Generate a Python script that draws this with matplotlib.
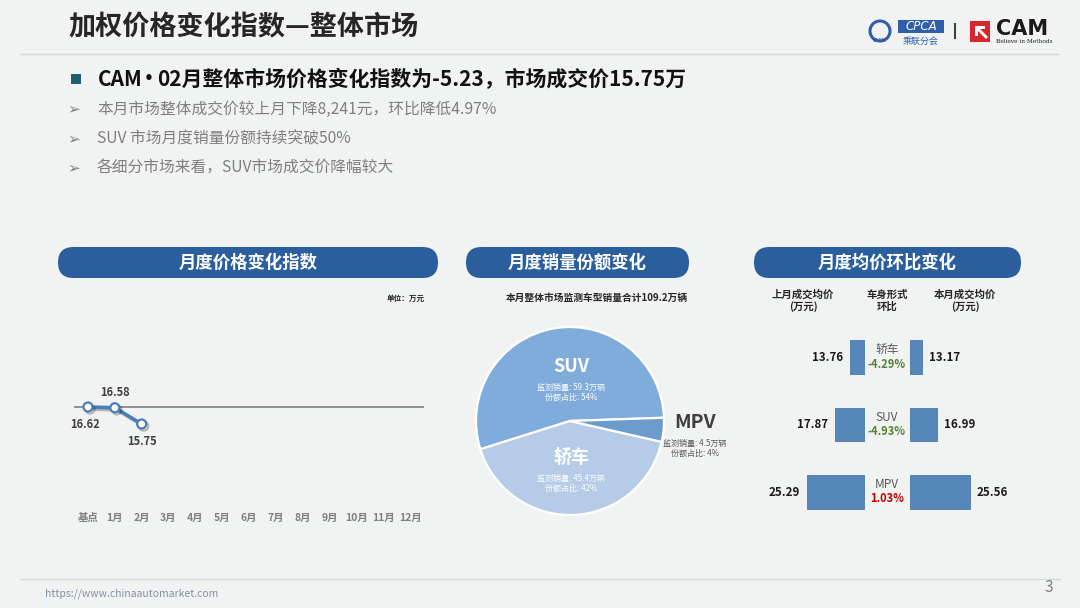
import matplotlib

matplotlib.use("Agg")
import matplotlib.pyplot as plt
import matplotlib.patheffects as pe
from matplotlib.patches import FancyBboxPatch, Rectangle, Polygon, Circle

plt.rcParams["font.family"] = ["Noto Sans CJK SC", "DejaVu Sans"]

# ---- data ----
months = ["基点", "1月", "2月", "3月", "4月", "5月", "6月",
          "7月", "8月", "9月", "10月", "11月", "12月"]
price_index = [16.62, 16.58, 15.75]

segments = ["SUV", "轿车", "MPV"]
segment_sales = [59.3, 45.4, 4.5]
segment_share = [54, 42, 4]
total_sales = 109.2

body_types = ["轿车", "SUV", "MPV"]
last_month_price = [13.76, 17.87, 25.29]
this_month_price = [13.17, 16.99, 25.56]
mom_change = [-4.29, -4.93, 1.03]

W, H = 1080, 608
BG = "#F1F2F2"
PILL = "#2A5E9D"
BAR = "#5587BA"

fig = plt.figure(figsize=(W / 100, H / 100), dpi=100, facecolor=BG)

bg = fig.add_axes([0, 0, 1, 1])
bg.set_xlim(0, W)
bg.set_ylim(H, 0)
bg.axis("off")
bg.set_zorder(3)
bg.patch.set_alpha(0)


def px_axes(x0, y0, x1, y1):
    ax = fig.add_axes([x0 / W, 1 - y1 / H, (x1 - x0) / W, (y1 - y0) / H])
    ax.set_facecolor("none")
    ax.set_zorder(2)
    return ax


# ---- header ----
bg.text(68, 27, "加权价格变化指数—整体市场", fontsize=19.5, fontweight="bold",
        color="#262626", va="center", ha="left")
bg.plot([20, 1058], [54, 54], color="#D6D8D9", lw=1)

# logos (rough)
bg.add_patch(Circle((880, 31), 10, facecolor="none", edgecolor="#2F5FA8", lw=2.2))
bg.text(880, 41, "CAAM", fontsize=3.5, color="#2F5FA8", style="italic",
        ha="center", va="center", fontweight="bold")
bg.add_patch(Rectangle((898, 20), 46, 13, facecolor="#2F5FA8", edgecolor="none"))
bg.text(921, 26.5, "CPCA", fontsize=8.5, color="white", style="italic",
        ha="center", va="center", family="DejaVu Sans")
bg.text(921, 41, "乘联分会", fontsize=6.5, color="#2F5FA8", ha="center", va="center")
bg.plot([955, 955], [24, 38], color="#404040", lw=1.5)
bg.add_patch(Rectangle((970, 21), 20, 21, facecolor="#D7262C", edgecolor="none"))
bg.add_patch(Polygon([(975, 26), (985, 26), (985, 29), (980, 29), (988, 37),
                      (986, 39), (978, 31), (978, 36), (975, 36)],
                     facecolor="white", edgecolor="none"))
bg.text(996, 29, "CAM", fontsize=15, fontweight="bold", color="#1A1A1A",
        ha="left", va="center", family="DejaVu Sans")
bg.text(996, 41.5, "Believe in Methods", fontsize=4.2, color="#1A1A1A",
        ha="left", va="center", family="DejaVu Serif")

# ---- key points ----
bg.add_patch(Rectangle((71, 74), 10, 10, facecolor="#215E6E", edgecolor="none"))
bg.text(98, 79, "CAM", fontsize=15, fontweight="bold", color="#111111",
        va="center", ha="left")
bg.text(149, 79, "•", fontsize=11, fontweight="bold", color="#111111",
        va="center", ha="center", family="DejaVu Sans")
bg.text(157, 79, "02月整体市场价格变化指数为-5.23，市场成交价15.75万",
        fontsize=15, fontweight="bold", color="#111111", va="center", ha="left")
notes = ["本月市场整体成交价较上月下降8,241元，环比降低4.97%",
         "SUV 市场月度销量份额持续突破50%",
         "各细分市场来看，SUV市场成交价降幅较大"]
for i, note in enumerate(notes):
    y = 109 + i * 29.5
    bg.text(67, y, "➢", fontsize=11, color="#7F7F7F", va="center", ha="left",
            family="DejaVu Sans")
    bg.text(97, y, note, fontsize=11.3, color="#7F7F7F", va="center", ha="left")

# ---- section pills ----
for x0, x1, title in [(58, 438, "月度价格变化指数"),
                      (466, 689, "月度销量份额变化"),
                      (754, 1021, "月度均价环比变化")]:
    bg.add_patch(FancyBboxPatch((x0, 247), x1 - x0, 31,
                                boxstyle="round,pad=0,rounding_size=15.5",
                                facecolor=PILL, edgecolor="none"))
    bg.text((x0 + x1) / 2, 262.5, title, fontsize=12.5, fontweight="bold",
            color="white", ha="center", va="center")

# ---- left: monthly price index line ----
ax1 = px_axes(74, 290, 424, 500)
px_per_unit = (410 - 88) / 12
ax1.set_xlim(-14 / px_per_unit, 12 + 14 / px_per_unit)
ypx = 19.54
ax1.set_ylim(16.62 - 93 / ypx, 16.62 + 117 / ypx)
ax1.axhline(price_index[0], color="#7F7F7F", lw=1.2, zorder=1)
ax1.plot(range(len(price_index)), price_index, color="#4A7EBB", lw=2.6,
         marker="o", markersize=6.5, markerfacecolor="white",
         markeredgecolor="#4A7EBB", markeredgewidth=1.6, zorder=3,
         path_effects=[pe.SimpleLineShadow(offset=(1.5, -1.5), alpha=0.25),
                       pe.Normal()])
label_offsets = [(-3, -17), (0, 15), (0, -18)]
for i, (v, off) in enumerate(zip(price_index, label_offsets)):
    ax1.annotate(f"{v:.2f}", (i, v), xytext=off, textcoords="offset pixels",
                 ha="center", va="center", fontsize=8, fontweight="bold",
                 color="#404040")
ax1.set_xticks(range(len(months)))
ax1.set_xticklabels(months, fontsize=7.5, color="#7F7F7F", fontweight="bold")
ax1.tick_params(axis="x", length=0, pad=9)
ax1.set_yticks([])
for s in ax1.spines.values():
    s.set_visible(False)
bg.text(425, 298, "单位：万元", fontsize=5.5, fontweight="bold", color="#262626",
        ha="right", va="center")

# ---- middle: share pie ----
bg.text(597, 298, f"本月整体市场监测车型销量合计{total_sales}万辆", fontsize=7,
        fontweight="bold", color="#262626", ha="center", va="center")
r = 94
ax2 = px_axes(570 - r, 421 - r, 570 + r, 421 + r)
ax2.pie(segment_sales, colors=["#80ACDC", "#B5CBE7", "#6B9CCD"], startangle=2,
        counterclock=True,
        wedgeprops=dict(edgecolor="white", linewidth=1.6))
ax2.set_xlim(-1, 1)
ax2.set_ylim(-1, 1)

pie_text = [(571, 366, "white", 13), (571, 457, "white", 13), (695, 422, "#404040", 14)]
for (x, y, col, fs), name, sales, share in zip(pie_text, segments, segment_sales,
                                               segment_share):
    sub_col = "white" if col == "white" else "#595959"
    bg.text(x, y, name, fontsize=fs, fontweight="bold", color=col,
            ha="center", va="center")
    bg.text(x, y + 21, f"监测销量: {sales}万辆", fontsize=5.8, color=sub_col,
            ha="center", va="center")
    bg.text(x, y + 31, f"份额占比: {share}%", fontsize=5.8, color=sub_col,
            ha="center", va="center")

# ---- right: average price bars ----
for x, head in [(803, "上月成交均价\n(万元)"), (887, "车身形式\n环比"),
                (965, "本月成交均价\n(万元)")]:
    bg.text(x, 301, head, fontsize=7.5, fontweight="bold", color="#262626",
            ha="center", va="center", linespacing=1.15)

base = 9.9
bar_px = 3.8
row_px = 67.5
rows = range(len(body_types))
ax_l = px_axes(765, 320, 865, 530)
ax_r = px_axes(910, 320, 1010, 530)
for ax, vals, side in [(ax_l, last_month_price, "left"), (ax_r, this_month_price, "right")]:
    ax.barh(rows, [v - base for v in vals], left=base, height=0.5, color=BAR,
            edgecolor="#4C78A6", linewidth=0.6)
    ax.set_ylim(2 + 38 / row_px, -37 / row_px)
    span = base + 100 / bar_px
    if side == "left":
        ax.set_xlim(span, base)
        for i, v in zip(rows, vals):
            ax.annotate(f"{v:.2f}", (v, i), xytext=(-7, 0), textcoords="offset pixels",
                        ha="right", va="center", fontsize=8.3, fontweight="bold",
                        color="#1A1A1A")
    else:
        ax.set_xlim(base, span)
        for i, v in zip(rows, vals):
            ax.annotate(f"{v:.2f}", (v, i), xytext=(7, 0), textcoords="offset pixels",
                        ha="left", va="center", fontsize=8.3, fontweight="bold",
                        color="#1A1A1A")
    ax.axis("off")

for i, (name, chg) in enumerate(zip(body_types, mom_change)):
    yc = 357 + i * row_px
    bg.text(887, yc - 7, name, fontsize=8.5, color="#595959", ha="center", va="center")
    bg.text(887, yc + 7, f"{chg:.2f}%", fontsize=8, fontweight="bold",
            color="#548235" if chg < 0 else "#C00000", ha="center", va="center")

# ---- footer ----
bg.plot([20, 1060], [579, 579], color="#D6D8D9", lw=1)
bg.text(45, 594, "https://www.chinaautomarket.com", fontsize=7.5, color="#8091A5",
        ha="left", va="center")
bg.text(1049, 588, "3", fontsize=11, color="#7F7F7F", ha="center", va="center")

fig.savefig("out.png", dpi=100, facecolor=BG)
